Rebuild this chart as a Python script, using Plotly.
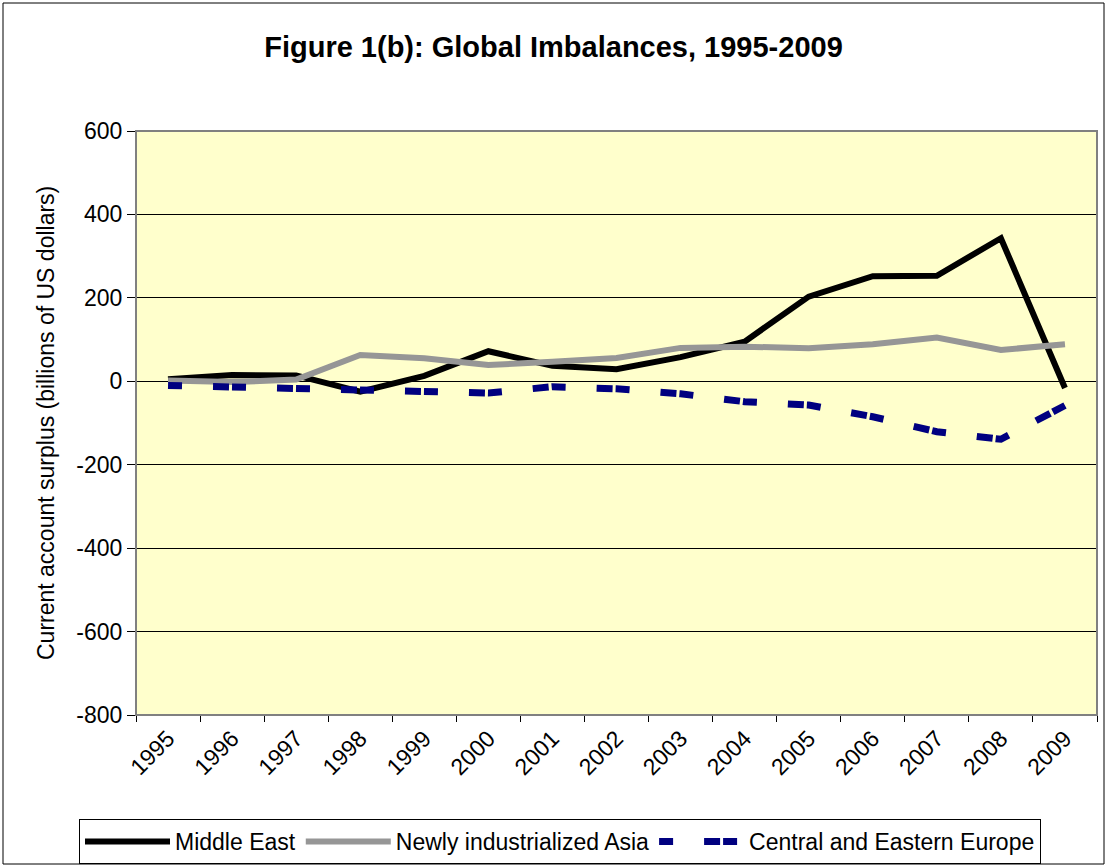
import plotly.graph_objects as go

years = [str(y) for y in range(1995, 2010)]
middle_east = [5, 15, 14, -25, 13, 72, 37, 29, 58, 95, 203, 252, 253, 343, -16]
nie_asia = [2, -2, 4, 63, 55, 39, 47, 56, 80, 83, 79, 89, 105, 75, 89]
cee = [-10, -13, -18, -18, -25, -28, -13, -18, -30, -49, -57, -85, -121, -139, -58]
y_ticks = [-800, -600, -400, -200, 0, 200, 400, 600]
y_tick_text = ["-800", "-600", "-400", "-200", "0", "200", "400", "600"]

W, H = 1107, 867
L, R, T, B = 136, 10, 131, 152
pw, ph = W - L - R, H - T - B

def px(x):
    return (x - L) / pw

def py(y):
    return (H - B - y) / ph

FONT = "Arial, Liberation Sans, sans-serif"

fig = go.Figure()
fig.add_trace(go.Scatter(x=years, y=middle_east, name="Middle East", mode="lines",
                         line=dict(color="#000000", width=6)))
fig.add_trace(go.Scatter(x=years, y=nie_asia, name="Newly industrialized Asia", mode="lines",
                         line=dict(color="#969696", width=6)))
fig.add_trace(go.Scatter(x=years, y=cee, name="Central and Eastern Europe", mode="lines",
                         line=dict(color="#000080", width=7, dash="14px,31px,16px,3px")))

fig.update_layout(
    width=W, height=H,
    margin=dict(l=L, r=R, t=T, b=B, autoexpand=False),
    paper_bgcolor="white",
    plot_bgcolor="#FFFFCC",
    font=dict(family=FONT, size=23, color="black"),
    title=dict(text="<b>Figure 1(b): Global Imbalances, 1995-2009</b>",
               x=0.5, xanchor="center", y=1 - 47 / H, yanchor="middle",
               font=dict(family=FONT, size=29, color="black")),
    xaxis=dict(type="category", range=[-0.5, 14.5], tickangle=-45,
               tickson="boundaries", ticks="outside", ticklen=6, tickcolor="black",
               showline=True, linecolor="black", linewidth=1, showgrid=False,
               tickfont=dict(size=23), zeroline=False),
    yaxis=dict(range=[-800, 600], tickvals=y_ticks, ticktext=y_tick_text,
               ticks="outside", ticklen=8,
               tickcolor="black", showline=True, linecolor="black", linewidth=1,
               showgrid=True, gridcolor="black", gridwidth=1, zeroline=False,
               tickfont=dict(size=23)),
    showlegend=True,
    legend=dict(orientation="h", x=px(560), xanchor="center", y=py(819), yanchor="top",
                bordercolor="black", borderwidth=1, bgcolor="white",
                font=dict(size=23), itemwidth=85, tracegroupgap=0),
    shapes=[
        dict(type="rect", xref="paper", yref="paper", x0=0, x1=1, y0=0, y1=1,
             line=dict(color="#808080", width=2), layer="above"),
        dict(type="rect", xref="paper", yref="paper", x0=px(3), x1=px(1104),
             y0=py(864), y1=py(3), line=dict(color="black", width=1)),
    ],
    annotations=[
        dict(text="Current account surplus (billions of US dollars)", textangle=-90,
             xref="paper", yref="paper", x=px(46), y=0.5, xanchor="center",
             yanchor="middle", showarrow=False, font=dict(size=23)),
    ],
)

fig.write_html("out.html", config={"displayModeBar": False},
               post_script="document.body.style.margin='0';document.body.style.overflow='hidden';")
